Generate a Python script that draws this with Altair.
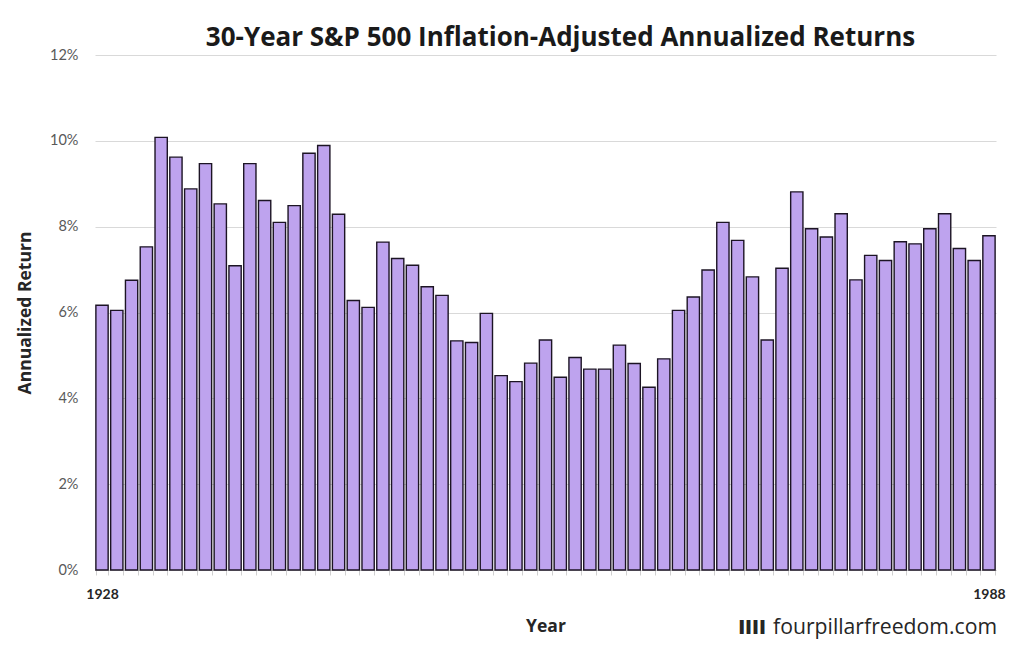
import altair as alt
import pandas as pd

years = list(range(1928, 1989))
returns = [
    6.17, 6.05, 6.75, 7.53, 10.08, 9.62, 8.88, 9.47, 8.53, 7.09,
    9.47, 8.61, 8.10, 8.49, 9.71, 9.89, 8.29, 6.28, 6.12, 7.64,
    7.26, 7.10, 6.60, 6.40, 5.34, 5.30, 5.98, 4.53, 4.39, 4.82,
    5.36, 4.49, 4.95, 4.68, 4.68, 5.24, 4.81, 4.26, 4.92, 6.05,
    6.36, 6.99, 8.10, 7.68, 6.83, 5.36, 7.03, 8.81, 7.95, 7.76,
    8.30, 6.76, 7.33, 7.21, 7.65, 7.60, 7.95, 8.30, 7.49, 7.21,
    7.79,
]
logo_text = ["IIII"]
site_text = ["fourpillarfreedom.com"]

df = pd.DataFrame({"Year": years, "Return": [r / 100 for r in returns]})

W, H = 901, 515

bars = alt.Chart(df).mark_bar(
    color="#BEA3EE", stroke="#1c1424", strokeWidth=1.4
).encode(
    x=alt.X(
        "Year:O",
        title="Year",
        scale=alt.Scale(paddingInner=0.17, paddingOuter=0.06),
        axis=alt.Axis(
            labelAngle=0,
            labelExpr="(datum.value == 1928 || datum.value == 1988) ? datum.label : ''",
            labelOverlap=False,
            labelFont="Lato", labelFontSize=14, labelFontWeight="bold", labelColor="#262626",
            labelPadding=12,
            tickBand="extent", tickColor="#d0d0d0", tickSize=5,
            domainColor="#d0d0d0",
            titleFont="Open Sans", titleFontSize=17.5, titleFontWeight="bold", titleColor="#262626",
            titlePadding=16,
            grid=False,
        ),
    ),
    y=alt.Y(
        "Return:Q",
        title="Annualized Return",
        scale=alt.Scale(domain=[0, 0.12], nice=False),
        axis=alt.Axis(
            values=[0, 0.02, 0.04, 0.06, 0.08, 0.10, 0.12],
            format=".0%",
            domain=False, ticks=False,
            labelFont="Lato", labelFontSize=14.5, labelColor="#595959",
            labelPadding=17,
            gridColor="#d9d9d9", gridWidth=1,
            titleFont="Open Sans", titleFontSize=17.5, titleFontWeight="bold", titleColor="#262626",
            titlePadding=15,
        ),
    ),
)

mark_logo = alt.Chart(pd.DataFrame({"t": logo_text})).mark_text(
    align="right", baseline="middle", font="Open Sans", fontSize=20, fontWeight=800, color="#262626"
).encode(text="t:N", x=alt.value(W - 230), y=alt.value(H + 58))

mark_site = alt.Chart(pd.DataFrame({"t": site_text})).mark_text(
    align="right", baseline="middle", font="Open Sans", fontSize=21.2, color="#262626"
).encode(text="t:N", x=alt.value(W + 1), y=alt.value(H + 58))

chart = alt.layer(bars, mark_logo, mark_site).properties(
    width=W,
    height=H,
    title=alt.TitleParams(
        "30-Year S&P 500 Inflation-Adjusted Annualized Returns",
        font="Open Sans", fontSize=26, fontWeight="bold", color="#1a1a1a",
        anchor="middle", dx=15, offset=-4,
    ),
    padding={"left": 87, "top": 47, "right": 12, "bottom": 70},
    autosize=alt.AutoSizeParams(type="none"),
).configure(background="white").configure_view(stroke=None)

chart.save("out.html", embed_options={"renderer": "svg", "actions": False})
